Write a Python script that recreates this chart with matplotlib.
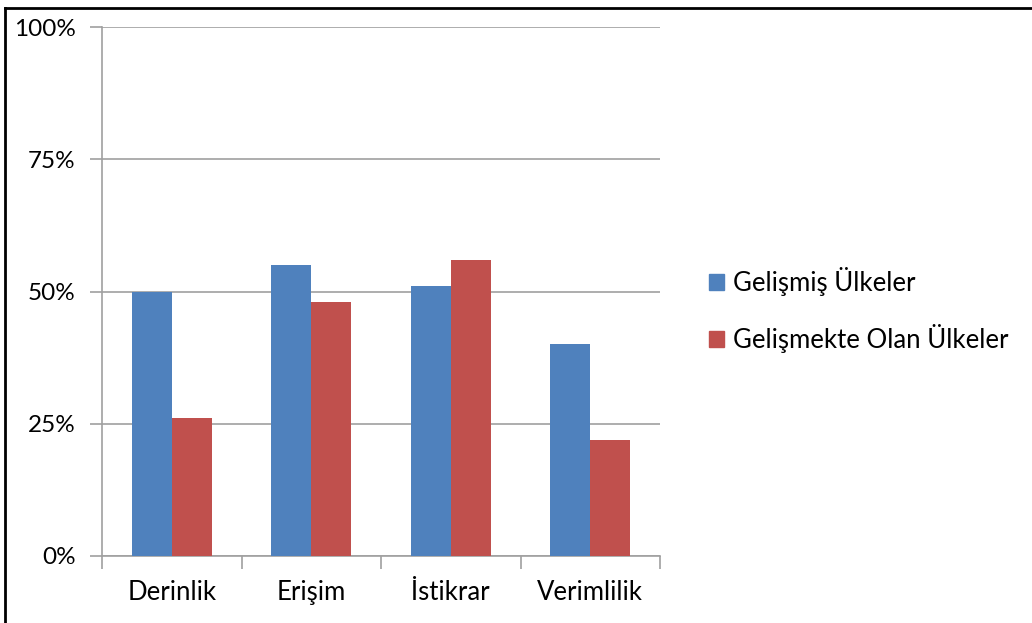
import matplotlib
matplotlib.use("Agg")
import matplotlib.pyplot as plt
from matplotlib.lines import Line2D
from matplotlib.patches import Patch
from matplotlib.ticker import FixedLocator, PercentFormatter
import numpy as np

categories = ["Derinlik", "Erişim", "İstikrar", "Verimlilik"]
gelismis = [50, 55, 51, 40]
gelismekte = [26, 48, 56, 22]
series_names = ["Gelişmiş Ülkeler", "Gelişmekte Olan Ülkeler"]
y_ticks = [0, 25, 50, 75, 100]

blue = "#4F81BD"
red = "#C0504D"
grid_grey = "#A0A0A0"
fs = 18.5

plt.rcParams["font.family"] = ["Lato", "DejaVu Sans"]

fig = plt.figure(figsize=(10.32, 6.23), dpi=100)
ax = fig.add_axes([102 / 1032, 1 - 556 / 623, 558 / 1032, 529 / 623])

x = np.arange(len(categories))
w = 0.287
ax.bar(x - w / 2, gelismis, width=w, color=blue, zorder=3)
ax.bar(x + w / 2, gelismekte, width=w, color=red, zorder=3)

ax.set_xlim(-0.5, len(categories) - 0.5)
ax.set_ylim(0, 100)
ax.set_yticks(y_ticks)
ax.yaxis.set_major_formatter(PercentFormatter(decimals=0))
ax.yaxis.grid(True, color=grid_grey, linewidth=1.2, zorder=0)
ax.set_axisbelow(True)

# category labels centred, tick marks on the boundaries
ax.set_xticks(x)
ax.set_xticklabels(categories, fontsize=fs)
ax.tick_params(axis="x", which="major", length=0, pad=17)
ax.xaxis.set_minor_locator(FixedLocator(np.arange(-0.5, len(categories), 1.0)))
ax.tick_params(axis="x", which="minor", length=9, width=1.2, color=grid_grey)
ax.tick_params(axis="y", length=9, width=1.2, color=grid_grey, labelsize=17.5, pad=10)

for side in ["top", "right"]:
    ax.spines[side].set_visible(False)
for side in ["left", "bottom"]:
    ax.spines[side].set_color(grid_grey)
    ax.spines[side].set_linewidth(1.2)

handles = [Patch(color=blue), Patch(color=red)]
fig.legend(handles, series_names, loc="center left", bbox_to_anchor=(0.665, 0.502),
           frameon=False, fontsize=fs, handlelength=0.56, handleheight=0.56,
           handletextpad=0.35, labelspacing=1.1)

# outer frame (left and top edges only)
fig.add_artist(Line2D([5 / 1032, 5 / 1032], [0, 1 - 8 / 623], color="black",
                      linewidth=2, transform=fig.transFigure))
fig.add_artist(Line2D([5 / 1032, 1], [1 - 8 / 623, 1 - 8 / 623], color="black",
                      linewidth=2, transform=fig.transFigure))

fig.savefig("out.png", dpi=100)
